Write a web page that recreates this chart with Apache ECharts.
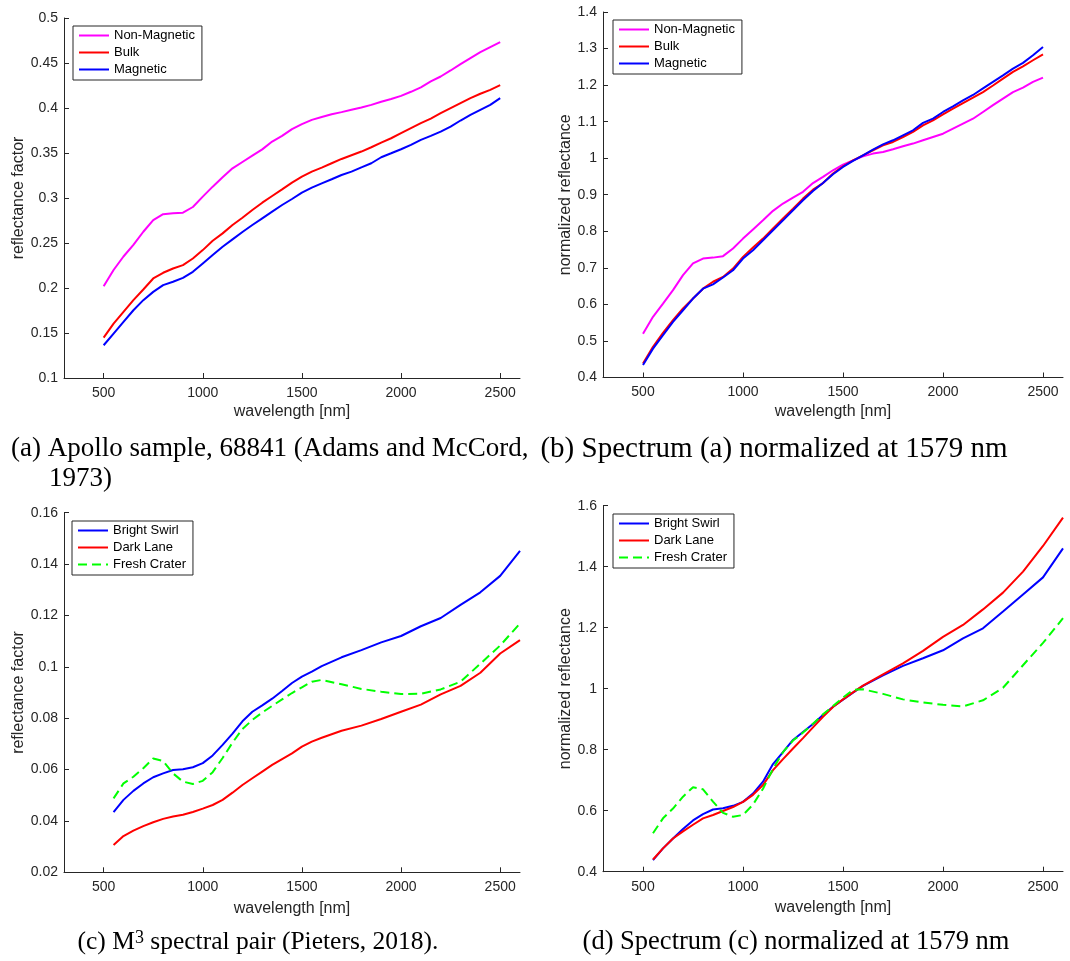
<!DOCTYPE html>
<html><head><meta charset="utf-8">
<script src="https://cdn.jsdelivr.net/npm/echarts@6/dist/echarts.min.js"></script>
<style>html,body{margin:0;padding:0;background:#fff}#c{width:1070px;height:961px}</style>
</head><body><div id="c"></div><script>
// ---------- data ----------
const xTicks = [500, 1000, 1500, 2000, 2500];
const wlApollo = [500,550,600,650,700,750,800,850,900,950,1000,1050,1100,1150,1200,1250,1300,1350,1400,1450,1500,1550,1600,1650,1700,1750,1800,1850,1900,1950,2000,2050,2100,2150,2200,2250,2300,2350,2400,2450,2500];
const nonMagA = [0.202,0.220,0.235,0.248,0.2625,0.2755,0.282,0.283,0.2837,0.290,0.3015,0.3126,0.323,0.333,0.340,0.347,0.354,0.3627,0.369,0.3765,0.382,0.3868,0.390,0.393,0.3954,0.398,0.4006,0.4035,0.407,0.410,0.4135,0.418,0.423,0.4295,0.435,0.4417,0.4488,0.4555,0.462,0.4677,0.4733];
const bulkA = [0.1449,0.1605,0.1735,0.1865,0.1983,0.2106,0.2169,0.2217,0.2254,0.2328,0.2421,0.2525,0.2607,0.270,0.2781,0.2866,0.2948,0.3022,0.3096,0.3171,0.3237,0.3293,0.3338,0.3386,0.3434,0.3475,0.3516,0.3564,0.3616,0.3664,0.372,0.3776,0.3831,0.3883,0.3942,0.3998,0.4054,0.411,0.4158,0.4202,0.4254];
const magA = [0.1364,0.1494,0.1623,0.1753,0.1865,0.1957,0.2032,0.2069,0.2113,0.218,0.2273,0.2366,0.2458,0.254,0.2622,0.270,0.2774,0.2848,0.2922,0.2989,0.3059,0.3115,0.3163,0.3208,0.3256,0.3293,0.3341,0.3386,0.3453,0.3497,0.3542,0.359,0.3646,0.369,0.3738,0.3794,0.3861,0.3924,0.398,0.4035,0.411];
const nonMagB = [0.520,0.566,0.602,0.639,0.680,0.712,0.7255,0.728,0.732,0.753,0.780,0.805,0.830,0.856,0.876,0.892,0.908,0.932,0.949,0.967,0.9825,0.994,1.005,1.0126,1.017,1.0245,1.0326,1.040,1.049,1.058,1.067,1.081,1.0946,1.108,1.1265,1.145,1.163,1.181,1.193,1.2086,1.2204];
const bulkB = [0.438,0.484,0.522,0.557,0.589,0.616,0.643,0.662,0.675,0.698,0.730,0.7555,0.780,0.8075,0.835,0.862,0.8895,0.914,0.932,0.958,0.978,0.994,1.008,1.0217,1.0354,1.0445,1.058,1.072,1.090,1.1037,1.120,1.1356,1.151,1.1657,1.181,1.199,1.2177,1.236,1.2514,1.268,1.284];
const magB = [0.434,0.479,0.516,0.552,0.584,0.616,0.643,0.655,0.6735,0.6935,0.7254,0.748,0.7756,0.803,0.830,0.8576,0.885,0.9105,0.932,0.956,0.976,0.9925,1.008,1.0235,1.038,1.049,1.0627,1.0764,1.0965,1.1083,1.1265,1.142,1.1584,1.173,1.191,1.209,1.2268,1.245,1.2607,1.2815,1.304];

const wlM3 = [550,600,650,700,750,800,850,900,950,1000,1050,1100,1150,1200,1250,1300,1350,1400,1450,1500,1550,1600,1700,1800,1900,2000,2100,2200,2300,2400,2500,2600];
const swirlC = [0.0434,0.0482,0.0517,0.0546,0.0570,0.0585,0.0598,0.0601,0.0609,0.0625,0.0655,0.0696,0.0740,0.0788,0.0825,0.0850,0.0876,0.0906,0.0937,0.0962,0.0981,0.1003,0.1037,0.1065,0.1095,0.1120,0.1158,0.1190,0.1241,0.1290,0.1354,0.1451];
const laneC = [0.0306,0.0341,0.0362,0.0380,0.0395,0.0408,0.0417,0.0424,0.0435,0.0448,0.0462,0.0482,0.0510,0.0540,0.0566,0.0592,0.0618,0.0641,0.0663,0.0689,0.0709,0.0724,0.0751,0.0771,0.0797,0.0825,0.0853,0.0893,0.0926,0.0977,0.1052,0.1104];
const craterC = [0.0488,0.0546,0.0572,0.0605,0.0643,0.0633,0.0585,0.0553,0.0544,0.0556,0.0590,0.0645,0.0705,0.0758,0.0793,0.0822,0.0848,0.0873,0.0898,0.0920,0.0942,0.0949,0.0932,0.0914,0.0903,0.0894,0.0895,0.0912,0.0942,0.1012,0.1083,0.1169];
const swirlD = [0.438,0.4765,0.509,0.540,0.568,0.589,0.604,0.608,0.616,0.629,0.656,0.695,0.753,0.792,0.832,0.858,0.884,0.914,0.941,0.964,0.987,1.009,1.044,1.075,1.100,1.126,1.165,1.198,1.253,1.309,1.365,1.460];
const laneD = [0.440,0.4765,0.509,0.532,0.554,0.575,0.586,0.599,0.612,0.629,0.652,0.684,0.733,0.769,0.804,0.838,0.873,0.908,0.940,0.965,0.988,1.010,1.047,1.083,1.124,1.170,1.209,1.260,1.315,1.384,1.468,1.561];
const craterD = [0.526,0.575,0.607,0.646,0.677,0.670,0.630,0.593,0.580,0.586,0.620,0.672,0.737,0.792,0.830,0.856,0.885,0.916,0.943,0.971,0.996,0.998,0.983,0.965,0.955,0.947,0.942,0.962,1.003,1.077,1.150,1.231];

const apolloNames = ['Non-Magnetic', 'Bulk', 'Magnetic'];
const m3Names = ['Bright Swirl', 'Dark Lane', 'Fresh Crater'];
const xName = 'wavelength [nm]';
const yNames = ['reflectance factor', 'normalized reflectance', 'reflectance factor', 'normalized reflectance'];
const captions = ['(a) Apollo sample, 68841 (Adams and McCord,', '1973)', '(b) Spectrum (a) normalized at 1579 nm', '(d) Spectrum (c) normalized at 1579 nm'];

// ---------- styling ----------
const SANS = '"Liberation Sans", Arial, Helvetica, sans-serif';
const SERIF = '"Liberation Serif", "Times New Roman", serif';
const AX = '#262626';
const TXT = '#262626';
const MAG = '#ff00ff', RED = '#ff0000', BLUE = '#0000ff', GREEN = '#00ff00';

function pairs(x, y) { return x.map((v, i) => [v, y[i]]); }

const grids = [
  {left: 64, top: 18, width: 456, height: 360},
  {left: 603, top: 12, width: 460, height: 365.5},
  {left: 64, top: 512.7, width: 456, height: 359.6},
  {left: 603, top: 505.7, width: 460, height: 366}
];
const yRanges = [[0.1, 0.5, 0.05], [0.4, 1.4, 0.1], [0.02, 0.16, 0.02], [0.4, 1.6, 0.2]];
const yGaps = [34, 28, 34, 28];
const xGaps = [26, 26, 28, 28];

const xAxes = grids.map((g, i) => ({
  type: 'value', gridIndex: i, min: 300, max: 2600,
  name: xName, nameLocation: 'middle', nameGap: xGaps[i],
  nameTextStyle: {fontFamily: SANS, fontSize: 16, color: TXT},
  axisLine: {show: true, onZero: false, lineStyle: {color: AX, width: 1}},
  axisTick: {show: true, inside: true, length: 5, customValues: xTicks, lineStyle: {color: AX}},
  axisLabel: {customValues: xTicks, fontFamily: SANS, fontSize: 14, color: TXT, margin: 8,
    formatter: v => String(v)},
  splitLine: {show: false}
}));
const yAxes = grids.map((g, i) => ({
  type: 'value', gridIndex: i, min: yRanges[i][0], max: yRanges[i][1], interval: yRanges[i][2],
  name: yNames[i], nameLocation: 'middle', nameGap: yGaps[i],
  nameTextStyle: {fontFamily: SANS, fontSize: 16, color: TXT},
  axisLine: {show: true, onZero: false, lineStyle: {color: AX, width: 1}},
  axisTick: {show: true, inside: true, length: 5, lineStyle: {color: AX}},
  axisLabel: {fontFamily: SANS, fontSize: 14, color: TXT, margin: 6,
    formatter: v => String(parseFloat(v.toFixed(4)))},
  splitLine: {show: false}
}));

function line(name, idx, x, y, color, dashed) {
  return {
    name: name, type: 'line', xAxisIndex: idx, yAxisIndex: idx,
    data: pairs(x, y), symbol: 'none', showSymbol: false, smooth: false,
    lineStyle: {color: color, width: 2, type: dashed ? [9, 5] : 'solid'},
    itemStyle: {color: color}, animation: false
  };
}

const series = [
  line(apolloNames[0], 0, wlApollo, nonMagA, MAG),
  line(apolloNames[1], 0, wlApollo, bulkA, RED),
  line(apolloNames[2], 0, wlApollo, magA, BLUE),
  line(apolloNames[0], 1, wlApollo, nonMagB, MAG),
  line(apolloNames[1], 1, wlApollo, bulkB, RED),
  line(apolloNames[2], 1, wlApollo, magB, BLUE),
  line(m3Names[0], 2, wlM3, swirlC, BLUE),
  line(m3Names[1], 2, wlM3, laneC, RED),
  line(m3Names[2], 2, wlM3, craterC, GREEN, true),
  line(m3Names[0], 3, wlM3, swirlD, BLUE),
  line(m3Names[1], 3, wlM3, laneD, RED),
  line(m3Names[2], 3, wlM3, craterD, GREEN, true)
];

function legend(names, left, top) {
  return {
    orient: 'vertical', left: left, top: top, data: names,
    itemWidth: 30, itemHeight: 17, itemGap: 0, padding: [1, 7, 2, 5],
    backgroundColor: '#fff', borderColor: AX, borderWidth: 1, borderRadius: 0,
    selectedMode: false,
    itemStyle: {opacity: 0},
    textStyle: {fontFamily: SANS, fontSize: 13, color: '#000', lineHeight: 17}
  };
}

function cap(text, x, y, size, align) {
  return {type: 'text', x: x, y: y, silent: true,
    style: {text: text, fontFamily: SERIF, fontSize: size, fill: '#000',
      align: align, textAlign: align, verticalAlign: 'middle', textVerticalAlign: 'middle'}};
}

const option = {
  backgroundColor: '#fff',
  animation: false,
  grid: grids,
  xAxis: xAxes,
  yAxis: yAxes,
  legend: [
    legend(apolloNames, 73, 26),
    legend(apolloNames, 613, 20),
    legend(m3Names, 72, 521),
    legend(m3Names, 613, 514)
  ],
  series: series,
  graphic: [
    cap(captions[0], 11, 449, 27, 'left'),
    cap(captions[1], 49, 479, 27, 'left'),
    cap(captions[2], 774, 449, 29, 'center'),
    {type: 'text', x: 258, y: 942, silent: true,
      style: {text: '{n|(c) M}{s|3}{n| spectral pair (Pieters, 2018).}',
        align: 'center', textAlign: 'center', verticalAlign: 'middle', textVerticalAlign: 'middle',
        rich: {
          n: {fontFamily: SERIF, fontSize: 25.5, lineHeight: 26, fill: '#000', color: '#000'},
          s: {fontFamily: SERIF, fontSize: 18, lineHeight: 17, verticalAlign: 'top', fill: '#000', color: '#000'}
        }}},
    cap(captions[3], 796, 942, 26.5, 'center')
  ]
};

const chart = echarts.init(document.getElementById('c'), null, {renderer: 'canvas'});
chart.setOption(option);
</script></body></html>
